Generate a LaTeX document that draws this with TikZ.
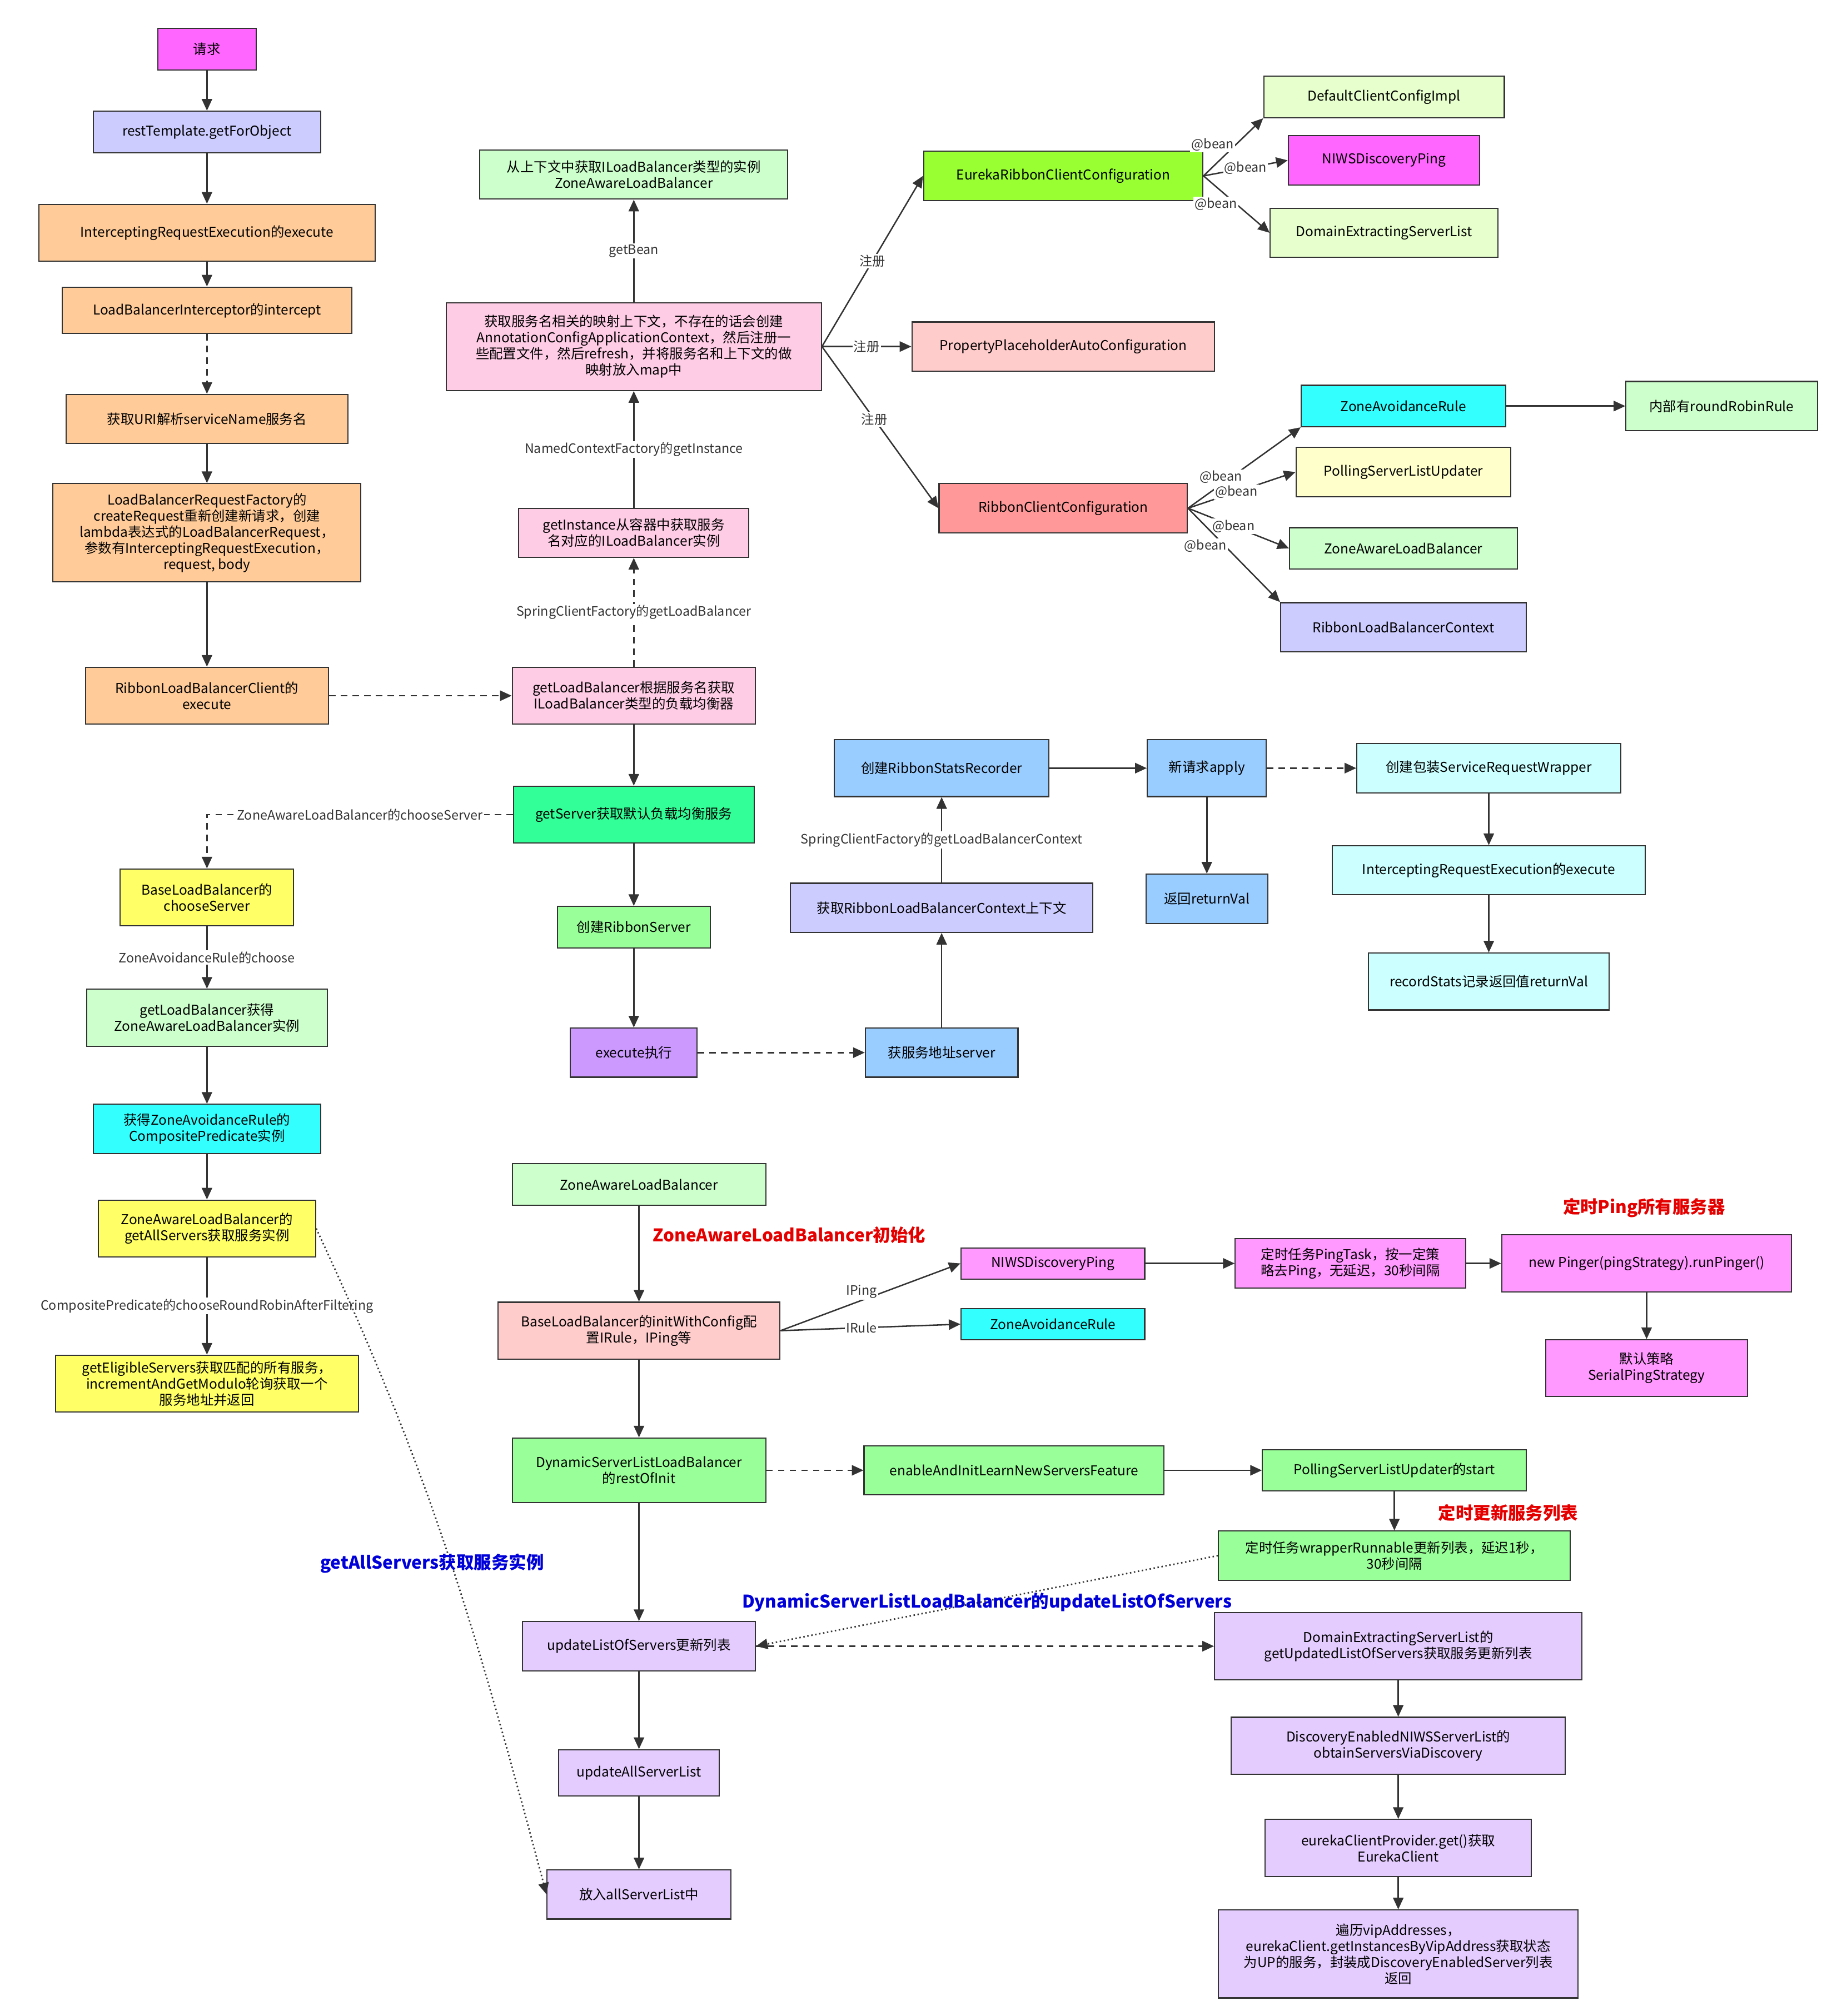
\documentclass[tikz,border=0pt]{standalone}
\usepackage{fontspec}
\setmainfont{Noto Sans CJK SC}
\usetikzlibrary{arrows.meta}
\definecolor{ln}{HTML}{333333}
\definecolor{cMag}{HTML}{FF66FF}
\definecolor{cPink}{HTML}{FF99FF}
\definecolor{cLav}{HTML}{CCCCFF}
\definecolor{cOr}{HTML}{FFCC99}
\definecolor{cRose}{HTML}{FFCCE6}
\definecolor{cLG}{HTML}{CCFFCC}
\definecolor{cLime}{HTML}{99FF33}
\definecolor{cLY}{HTML}{E6FFCC}
\definecolor{cSal}{HTML}{FFCCCC}
\definecolor{cRed}{HTML}{FF9999}
\definecolor{cCy}{HTML}{33FFFF}
\definecolor{cYel}{HTML}{FFFFCC}
\definecolor{cTeal}{HTML}{33FF99}
\definecolor{cGr}{HTML}{99FF99}
\definecolor{cPur}{HTML}{CC99FF}
\definecolor{cBl}{HTML}{99CCFF}
\definecolor{cLC}{HTML}{CCFFFF}
\definecolor{cY}{HTML}{FFFF66}
\definecolor{cVi}{HTML}{E5CCFF}
\tikzset{
 box/.style={draw=ln,line width=0.9pt,align=center,inner sep=2pt,font=\fontsize{10.5}{12.5}\selectfont},
 ar/.style={draw=ln,line width=1.1pt,-{Triangle[length=9pt,width=8pt]}},
 dar/.style={ar,dash pattern=on 5pt off 4pt},
 dot/.style={ar,dotted,line width=1.2pt},
 lb/.style={font=\fontsize{10}{12}\selectfont,fill=white,inner sep=1pt,text=ln},
 red/.style={font=\bfseries\fontsize{13.5}{15}\selectfont,text=red!90!black},
 blu/.style={font=\bfseries\fontsize{13.5}{15}\selectfont,text=blue!85!black}
}
\begin{document}
\begin{tikzpicture}[x=1pt,y=-1pt]
\useasboundingbox (0,0) rectangle (1420,1559);
\def\B#1#2#3#4#5#6{\node[box,fill=#4,minimum width=#2,minimum height=#3] (#1) at #5 {#6};}
\B{req}{76}{32}{cMag}{(160,38)}{请求}
\B{rt}{176}{32}{cLav}{(160,102)}{restTemplate.getForObject}
\B{ire}{260}{44}{cOr}{(160,180)}{InterceptingRequestExecution的execute}
\B{lbi}{224}{36}{cOr}{(160,240)}{LoadBalancerInterceptor的intercept}
\B{uri}{218}{38}{cOr}{(160,324)}{获取URI解析serviceName服务名}
\B{lbrf}{238}{76}{cOr}{(160,412)}{LoadBalancerRequestFactory的\\createRequest重新创建新请求，创建\\lambda表达式的LoadBalancerRequest，\\参数有InterceptingRequestExecution，\\request, body}
\B{rlbc}{188}{44}{cOr}{(160,538)}{RibbonLoadBalancerClient的\\execute}
\B{getlb}{188}{44}{cRose}{(490,538)}{getLoadBalancer根据服务名获取\\ILoadBalancer类型的负载均衡器}
\B{getinst}{178}{38}{cRose}{(490,412)}{getInstance从容器中获取服务\\名对应的ILoadBalancer实例}
\B{ctx}{290}{68}{cRose}{(490,268)}{获取服务名相关的映射上下文，不存在的话会创建\\AnnotationConfigApplicationContext，然后注册一\\些配置文件，然后refresh，并将服务名和上下文的做\\映射放入map中}
\B{zalb1}{238}{38}{cLG}{(490,135)}{从上下文中获取ILoadBalancer类型的实例\\ZoneAwareLoadBalancer}
\B{erc}{216}{38}{cLime}{(822,136)}{EurekaRibbonClientConfiguration}
\B{dcci}{186}{32}{cLY}{(1070,75)}{DefaultClientConfigImpl}
\B{nidp}{148}{38}{cMag}{(1070,124)}{NIWSDiscoveryPing}
\B{desl}{176}{38}{cLY}{(1070,180)}{DomainExtractingServerList}
\B{ppac}{234}{38}{cSal}{(822,268)}{PropertyPlaceholderAutoConfiguration}
\B{rcc}{192}{38}{cRed}{(822,393)}{RibbonClientConfiguration}
\B{zar}{158}{32}{cCy}{(1085,314)}{ZoneAvoidanceRule}
\B{rrr}{148}{38}{cLG}{(1331,314)}{内部有roundRobinRule}
\B{psl}{166}{38}{cYel}{(1085,365)}{PollingServerListUpdater}
\B{zalb2}{176}{32}{cLG}{(1085,424)}{ZoneAwareLoadBalancer}
\B{rlbctx}{190}{38}{cLav}{(1085,485)}{RibbonLoadBalancerContext}
\B{getserver}{186}{44}{cTeal}{(490,630)}{getServer获取默认负载均衡服务}
\B{crs}{118}{32}{cGr}{(490,717)}{创建RibbonServer}
\B{exec}{98}{38}{cPur}{(490,814)}{execute执行}
\B{server}{118}{38}{cBl}{(728,814)}{获服务地址server}
\B{ctxrl}{234}{38}{cLav}{(728,702)}{获取RibbonLoadBalancerContext上下文}
\B{crsr}{166}{44}{cBl}{(728,594)}{创建RibbonStatsRecorder}
\B{apply}{92}{44}{cBl}{(933,594)}{新请求apply}
\B{retval}{94}{38}{cBl}{(933,695)}{返回returnVal}
\B{srw}{204}{38}{cLC}{(1151,594)}{创建包装ServiceRequestWrapper}
\B{ire2}{242}{38}{cLC}{(1151,673)}{InterceptingRequestExecution的execute}
\B{rec}{186}{44}{cLC}{(1151,759)}{recordStats记录返回值returnVal}
\B{blb}{134}{44}{cY}{(160,694)}{BaseLoadBalancer的\\chooseServer}
\B{gzalb}{186}{44}{cLG}{(160,787)}{getLoadBalancer获得\\ZoneAwareLoadBalancer实例}
\B{cpi}{176}{38}{cCy}{(160,873)}{获得ZoneAvoidanceRule的\\CompositePredicate实例}
\B{gas}{168}{44}{cY}{(160,950)}{ZoneAwareLoadBalancer的\\getAllServers获取服务实例}
\B{ges}{234}{44}{cY}{(160,1070)}{getEligibleServers获取匹配的所有服务，\\incrementAndGetModulo轮询获取一个\\服务地址并返回}
\B{zalb3}{196}{32}{cLG}{(494,916)}{ZoneAwareLoadBalancer}
\B{blbinit}{218}{44}{cSal}{(494,1029)}{BaseLoadBalancer的initWithConfig配\\置IRule，IPing等}
\B{nidp2}{142}{24}{cPink}{(814,977)}{NIWSDiscoveryPing}
\B{zar2}{142}{24}{cCy}{(814,1024)}{ZoneAvoidanceRule}
\B{pingtask}{178}{38}{cPink}{(1044,977)}{定时任务PingTask，按一定策\\略去Ping，无延迟，30秒间隔}
\B{pinger}{224}{44}{cPink}{(1273,977)}{new Pinger(pingStrategy).runPinger()}
\B{sps}{156}{44}{cPink}{(1273,1058)}{默认策略\\SerialPingStrategy}
\B{dsl}{196}{50}{cGr}{(494,1137)}{DynamicServerListLoadBalancer\\的restOfInit}
\B{eil}{232}{38}{cGr}{(784,1137)}{enableAndInitLearnNewServersFeature}
\B{pslstart}{204}{32}{cGr}{(1078,1137)}{PollingServerListUpdater的start}
\B{wr}{272}{38}{cGr}{(1078,1203)}{定时任务wrapperRunnable更新列表，延迟1秒，\\30秒间隔}
\B{uls}{180}{38}{cVi}{(494,1273)}{updateListOfServers更新列表}
\B{desl2}{284}{52}{cVi}{(1081,1273)}{DomainExtractingServerList的\\getUpdatedListOfServers获取服务更新列表}
\B{desl3}{258}{44}{cVi}{(1081,1350)}{DiscoveryEnabledNIWSServerList的\\obtainServersViaDiscovery}
\B{ecp}{206}{44}{cVi}{(1081,1429)}{eurekaClientProvider.get()获取\\EurekaClient}
\B{vip}{278}{68}{cVi}{(1081,1511)}{遍历vipAddresses，\\eurekaClient.getInstancesByVipAddress获取状态\\为UP的服务，封装成DiscoveryEnabledServer列表\\返回}
\B{uasl}{124}{36}{cVi}{(494,1371)}{updateAllServerList}
\B{put}{142}{38}{cVi}{(494,1465)}{放入allServerList中}

\draw[ar] (req)--(rt); \draw[ar] (rt)--(ire); \draw[ar] (ire)--(lbi);
\draw[dar] (lbi)--(uri); \draw[ar] (uri)--(lbrf); \draw[ar] (lbrf)--(rlbc);
\draw[dar] (rlbc)--(getlb);
\draw[dar] (getlb)--node[lb]{SpringClientFactory的getLoadBalancer}(getinst);
\draw[ar] (getinst)--node[lb]{NamedContextFactory的getInstance}(ctx);
\draw[ar] (ctx)--node[lb]{getBean}(zalb1);
\draw[ar] (ctx.east)--node[lb,pos=0.5]{注册}(erc.west);
\draw[ar] (ctx.east)--node[lb]{注册}(ppac.west);
\draw[ar] (ctx.east)--node[lb,pos=0.45]{注册}(rcc.west);
\draw[ar] (erc.east)--node[lb,pos=0.5,left=-2pt,yshift=2pt]{@bean}(dcci.south west);
\draw[ar] (erc.east)--node[lb,pos=0.5]{@bean}(nidp.west);
\draw[ar] (erc.east)--node[lb,pos=0.5,left=-2pt]{@bean}(desl.west);
\draw[ar] (rcc.east)--node[lb,pos=0.45,left=-4pt,yshift=-4pt]{@bean}(zar.south west);
\draw[ar] (rcc.east)--node[lb,pos=0.45]{@bean}(psl.west);
\draw[ar] (rcc.east)--node[lb,pos=0.45]{@bean}(zalb2.west);
\draw[ar] (rcc.east)--node[lb,pos=0.4,left=-3pt]{@bean}(rlbctx.north west);
\draw[ar] (zar)--(rrr);
\draw[ar] (getlb)--(getserver); \draw[ar] (getserver)--(crs); \draw[ar] (crs)--(exec);
\draw[dar] (exec)--(server); \draw[ar] (server)--(ctxrl);
\draw[ar] (ctxrl)--node[lb]{SpringClientFactory的getLoadBalancerContext}(crsr);
\draw[ar] (crsr)--(apply); \draw[dar] (apply)--(srw); \draw[ar] (apply)--(retval);
\draw[ar] (srw)--(ire2); \draw[ar] (ire2)--(rec);
\draw[dar] (getserver.west)--node[lb]{ZoneAwareLoadBalancer的chooseServer}(160,630)--(blb.north);
\draw[ar] (blb)--node[lb]{ZoneAvoidanceRule的choose}(gzalb);
\draw[ar] (gzalb)--(cpi); \draw[ar] (cpi)--(gas);
\draw[ar] (gas)--node[lb]{CompositePredicate的chooseRoundRobinAfterFiltering}(ges);
\draw[dot] (gas.east) to[out=-65,in=105] (put.west);
\draw[ar] (zalb3)--(blbinit);
\draw[ar] (blbinit.east)--node[lb,pos=0.45,above]{IPing}(nidp2.west);
\draw[ar] (blbinit.east)--node[lb,pos=0.45]{IRule}(zar2.west);
\draw[ar] (nidp2)--(pingtask); \draw[ar] (pingtask)--(pinger); \draw[ar] (pinger)--(sps);
\draw[ar] (blbinit)--(dsl); \draw[dar] (dsl)--(eil); \draw[ar] (eil)--(pslstart);
\draw[ar] (pslstart)--(wr);
\draw[dot] (wr.west)--(uls.east);
\draw[dar] (uls)--(desl2);
\draw[ar] (desl2)--(desl3); \draw[ar] (desl3)--(ecp); \draw[ar] (ecp)--(vip);
\draw[ar] (dsl)--(uls); \draw[ar] (uls)--(uasl); \draw[ar] (uasl)--(put);
\node[red] (t1) at (610,955) {ZoneAwareLoadBalancer初始化};
\node[red] (t2) at (1271,934) {定时Ping所有服务器};
\node[red] (t3) at (1166,1170) {定时更新服务列表};
\node[blu] (t4) at (334,1209) {getAllServers获取服务实例};
\node[blu] (t5) at (763,1239) {DynamicServerListLoadBalancer的updateListOfServers};
\end{tikzpicture}
\end{document}
